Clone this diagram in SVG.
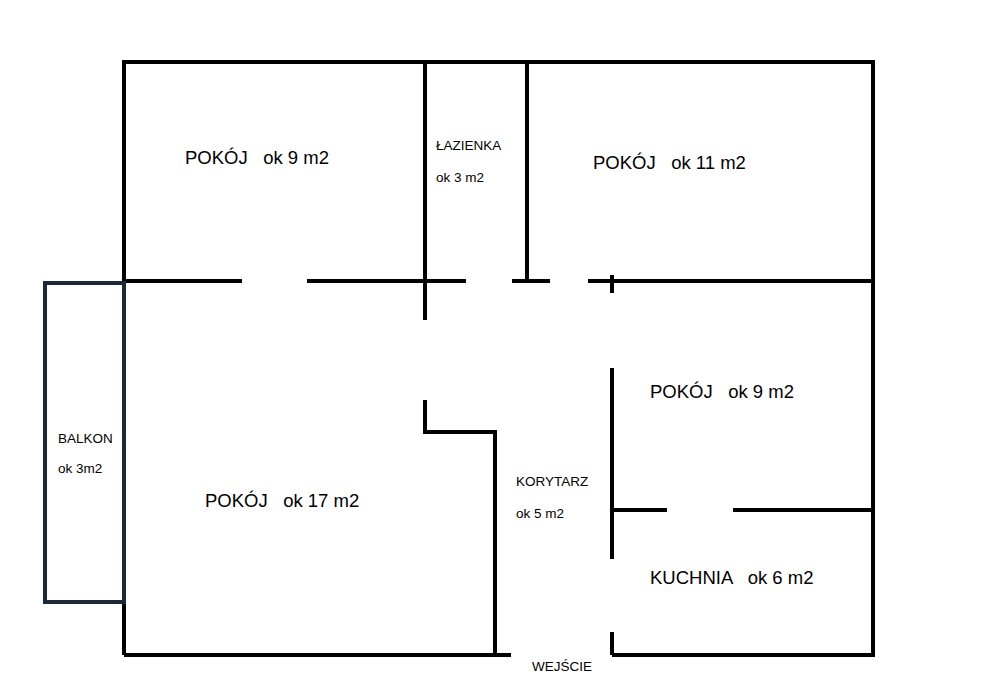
<svg xmlns="http://www.w3.org/2000/svg" width="990" height="700" viewBox="0 0 990 700">
<style>
.w{stroke:#000;stroke-width:4;fill:none}
.b{stroke:#1b2a38;stroke-width:4;fill:none}
.t{font-family:"Liberation Sans",Arial,sans-serif;fill:#000;white-space:pre}
.l{font-size:18.5px}.s{font-size:13.5px}
</style>
<rect width="990" height="700" fill="#fff"/>
<g id="walls">
<path class="w" d="M124,655V62H873V655H612M511,655H124"/>
<path class="w" d="M124,281H242M307,281H466M512,281H550M588,281H873"/>
<path class="w" d="M425,62V320M527,62V281M612,275V293"/>
<path class="w" d="M425,400V432H495V655M612,368V559M612,632V655M612,510H667M733,510H873"/>
</g>
<g id="balkon"><rect class="b" x="45" y="283" width="79" height="319"/>
<text class="t s" x="58" y="443">BALKON</text><text class="t s" x="58" y="473">ok 3m2</text></g>
<g id="p9a"><text class="t l" x="185" y="164" xml:space="preserve">POKÓJ   ok 9 m2</text></g>
<g id="laz"><text class="t s" x="436" y="150">ŁAZIENKA</text><text class="t s" x="436" y="182">ok 3 m2</text></g>
<g id="p11"><text class="t l" x="593" y="169" xml:space="preserve">POKÓJ   ok 11 m2</text></g>
<g id="p9b"><text class="t l" x="650" y="398" xml:space="preserve">POKÓJ   ok 9 m2</text></g>
<g id="p17"><text class="t l" x="205" y="507" xml:space="preserve">POKÓJ   ok 17 m2</text></g>
<g id="kor"><text class="t s" x="516" y="486">KORYTARZ</text><text class="t s" x="516" y="518">ok 5 m2</text></g>
<g id="kuch"><text class="t l" x="650" y="584" xml:space="preserve">KUCHNIA   ok 6 m2</text></g>
<g id="wej"><text class="t s" x="532" y="671">WEJŚCIE</text></g>
</svg>
